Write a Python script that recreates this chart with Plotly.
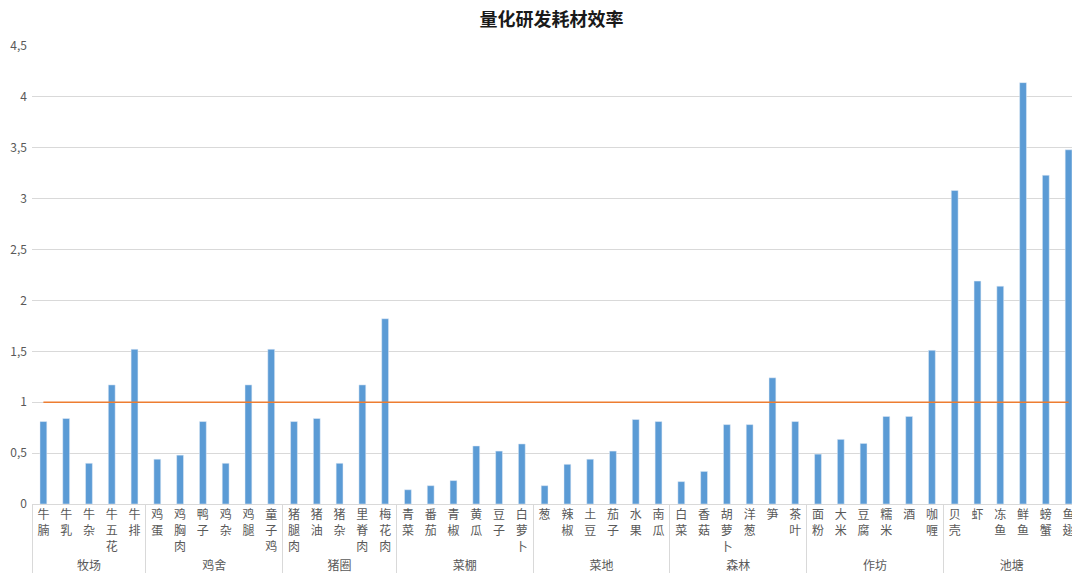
import plotly.graph_objects as go

title = "量化研发耗材效率"
groups = ["牧场"] * 5 + ["鸡舍"] * 6 + ["猪圈"] * 5 + ["菜棚"] * 6 + ["菜地"] * 6 + ["森林"] * 6 + ["作坊"] * 6 + ["池塘"] * 6
items = ["牛腩", "牛乳", "牛杂", "牛五花", "牛排",
         "鸡蛋", "鸡胸肉", "鸭子", "鸡杂", "鸡腿", "童子鸡",
         "猪腿肉", "猪油", "猪杂", "里脊肉", "梅花肉",
         "青菜", "番茄", "青椒", "黄瓜", "豆子", "白萝卜",
         "葱", "辣椒", "土豆", "茄子", "水果", "南瓜",
         "白菜", "香菇", "胡萝卜", "洋葱", "笋", "茶叶",
         "面粉", "大米", "豆腐", "糯米", "酒", "咖喱",
         "贝壳", "虾", "冻鱼", "鲜鱼", "螃蟹", "鱼翅"]
values = [0.81, 0.84, 0.40, 1.17, 1.52,
          0.44, 0.48, 0.81, 0.40, 1.17, 1.52,
          0.81, 0.84, 0.40, 1.17, 1.82,
          0.14, 0.18, 0.23, 0.57, 0.52, 0.59,
          0.18, 0.39, 0.44, 0.52, 0.83, 0.81,
          0.22, 0.32, 0.78, 0.78, 1.24, 0.81,
          0.49, 0.635, 0.595, 0.86, 0.86, 1.51,
          3.08, 2.19, 2.14, 4.14, 3.23, 3.48]
baseline = [1.0] * len(items)
y_ticks = [0, 0.5, 1, 1.5, 2, 2.5, 3, 3.5, 4, 4.5]

vertical = ["<br>".join(list(s)) for s in items]
x = [groups, vertical]

fig = go.Figure()
fig.add_trace(go.Bar(x=x, y=values, marker_color="#5B9BD5", showlegend=False))
fig.add_trace(go.Scatter(x=x, y=baseline, mode="lines",
                         line=dict(color="#ED7D31", width=1.5), showlegend=False))

fig.update_layout(
    width=1072, height=568,
    paper_bgcolor="white", plot_bgcolor="white",
    separators=",.",
    margin=dict(l=24, r=0, t=38, b=72, autoexpand=False),
    bargap=0.70,
    font=dict(family="Noto Sans CJK SC", color="#595959", size=12),
    title=dict(text=title, x=0.507, xanchor="center", y=0.98, yanchor="middle",
               font=dict(family="Noto Sans CJK SC", size=18, color="#1a1a1a", weight=600)),
    xaxis=dict(type="multicategory", showline=True, linecolor="#d9d9d9", linewidth=1,
               showdividers=True, dividercolor="#d9d9d9", dividerwidth=1,
               ticks="outside", tickcolor="#d9d9d9", ticklen=0, automargin=False,
               tickfont=dict(size=12, color="#595959")),
    yaxis=dict(range=[0, 4.5], tickvals=y_ticks, showgrid=True, gridcolor="#d9d9d9",
               gridwidth=1, zeroline=False, showline=False, automargin=False,
               tickfont=dict(size=12, color="#595959"), ticklabelstandoff=4),
)

fig.write_html("out.html")
